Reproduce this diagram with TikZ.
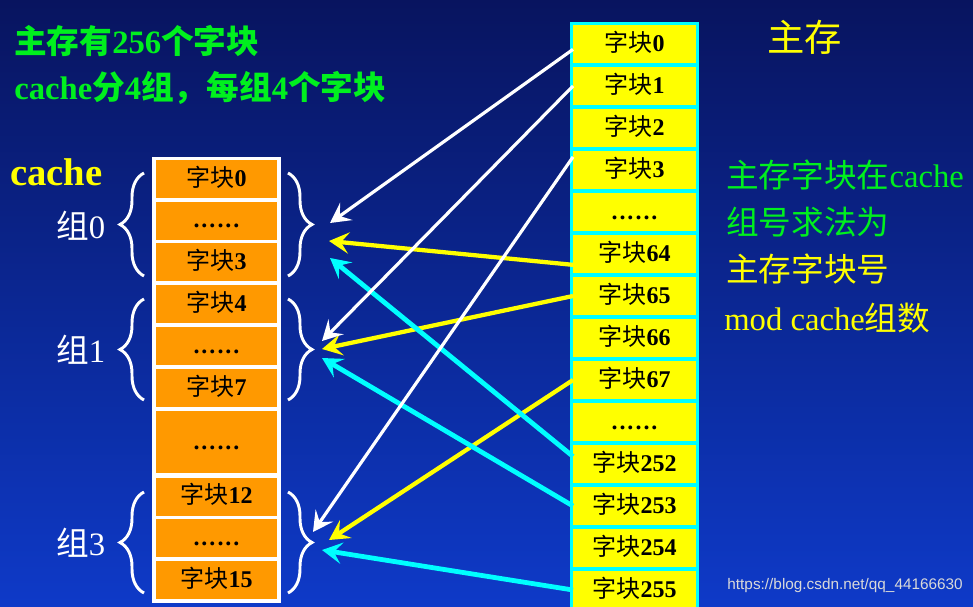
\documentclass[tikz,border=0pt]{standalone}
\usepackage{fontspec}
\setmainfont{Liberation Serif}
\newfontfamily\cjk{Noto Sans CJK SC}
\newfontfamily\wmfont{Liberation Sans}
\usepackage{tikz}
\usetikzlibrary{arrows.meta,decorations.pathreplacing}

\newcommand\zh[1]{{\cjk #1}}
\newcommand\sixdots{\textbf{.\kern1.5pt.\kern1.5pt.\kern1.5pt.\kern1.5pt.\kern1.5pt.}}

\definecolor{bgtop}{RGB}{8,20,95}
\definecolor{bgbot}{RGB}{14,58,200}
\definecolor{cacheorange}{RGB}{255,153,0}
\definecolor{memyellow}{RGB}{255,255,0}
\definecolor{memcyan}{RGB}{0,255,255}
\definecolor{txtgreen}{RGB}{0,240,30}

\tikzset{
  cblock/.style={fill=cacheorange, minimum width=90.75pt, minimum height=28.5pt,
    inner sep=0pt, outer sep=0pt, text height=13pt, text depth=2pt,
    font=\fontsize{18}{20}\selectfont},
  mblock/.style={cblock, fill=memyellow, minimum width=92.25pt},
  grp/.style={draw=white, line width=2.2pt, decorate,
    decoration={brace, amplitude=18pt}},
  txt/.style={inner sep=0pt, anchor=west},
  big/.style={font=\fontsize{24.5}{28}\selectfont},
  bigbf/.style={font=\fontsize{24.5}{28}\selectfont\bfseries},
  wline/.style={draw=white, line width=2.4pt,
    -{Stealth[length=15pt, width=16pt, inset=6pt]}},
  yline/.style={wline, draw=memyellow, line width=3.2pt},
  cline/.style={wline, draw=memcyan, line width=3.6pt}
}

\begin{document}
\begin{tikzpicture}[x=0.75pt,y=-0.75pt]
\clip (0,0) rectangle (973,606);
\fill[top color=bgtop, bottom color=bgbot] (0,0) rectangle (973,606);

% cache
\fill[white] (152,157) rectangle (281,603);
\node[cblock] (c0) at (216.5,179) {\zh{字块}\textbf{0}};
\node[cblock] (c1) at (216.5,220.5) {\sixdots};
\node[cblock] (c3) at (216.5,262) {\zh{字块}\textbf{3}};
\node[cblock] (c4) at (216.5,304) {\zh{字块}\textbf{4}};
\node[cblock] (c5) at (216.5,346) {\sixdots};
\node[cblock] (c7) at (216.5,388) {\zh{字块}\textbf{7}};
\node[cblock, minimum height=46.5pt] (c8) at (216.5,442) {\sixdots};
\node[cblock] (c12) at (216.5,496.5) {\zh{字块}\textbf{12}};
\node[cblock] (c13) at (216.5,538) {\sixdots};
\node[cblock] (c15) at (216.5,580) {\zh{字块}\textbf{15}};

\draw[grp] (144,276) -- (144,173);
\draw[grp] (144,400) -- (144,299);
\draw[grp] (144,593) -- (144,492);
\draw[grp] (288,173) -- (288,276);
\draw[grp] (288,299) -- (288,400);
\draw[grp] (288,492) -- (288,593);

\node[txt, big, white] (l0) at (56,226) {\zh{组}0};
\node[txt, big, white] (l1) at (56,350) {\zh{组}1};
\node[txt, big, white] (l3) at (56,543) {\zh{组}3};

% main memory
\fill[memcyan] (570,22) rectangle (699,612);
\node[mblock] (m0) at (634.5,44) {\zh{字块}\textbf{0}};
\node[mblock] (m1) at (634.5,86) {\zh{字块}\textbf{1}};
\node[mblock] (m2) at (634.5,128) {\zh{字块}\textbf{2}};
\node[mblock] (m3) at (634.5,170) {\zh{字块}\textbf{3}};
\node[mblock] (m4) at (634.5,212) {\sixdots};
\node[mblock] (m5) at (634.5,254) {\zh{字块}\textbf{64}};
\node[mblock] (m6) at (634.5,296) {\zh{字块}\textbf{65}};
\node[mblock] (m7) at (634.5,338) {\zh{字块}\textbf{66}};
\node[mblock] (m8) at (634.5,380) {\zh{字块}\textbf{67}};
\node[mblock] (m9) at (634.5,422) {\sixdots};
\node[mblock] (m10) at (634.5,464) {\zh{字块}\textbf{252}};
\node[mblock] (m11) at (634.5,506) {\zh{字块}\textbf{253}};
\node[mblock] (m12) at (634.5,548) {\zh{字块}\textbf{254}};
\node[mblock] (m13) at (634.5,590) {\zh{字块}\textbf{255}};

\coordinate (g0a) at (330,223);
\coordinate (g0b) at (329,241);
\coordinate (g0c) at (330,258);
\coordinate (g1a) at (322,341);
\coordinate (g1b) at (322,349);
\coordinate (g1c) at (322,358);
\coordinate (g3a) at (313,532);
\coordinate (g3b) at (329,540);
\coordinate (g3c) at (322,550);

\draw[yline] (m5.190) -- (g0b);
\draw[yline] (m6.west) -- (g1b);
\draw[yline] (m8.west) -- (g3b);
\draw[cline] (m10.173) -- (g0c);
\draw[cline] (m11.west) -- (g1c);
\draw[cline] (m13.west) -- (g3c);
\draw[wline] (m0.185) -- (g0a);
\draw[wline] (m1.west) -- (g1a);
\draw[wline] (m3.168) -- (g3a);

% texts
\node[txt, bigbf, txtgreen] (t1) at (14,41) {\zh{主存有}256\zh{个字块}};
\node[txt, bigbf, txtgreen] (t2) at (14,88) {cache\zh{分}4\zh{组，每组}4\zh{个字块}};
\node[txt, memyellow, font=\fontsize{29}{32}\selectfont\bfseries] (cachelbl) at (10,172) {cache};
\node[txt, memyellow, font=\fontsize{28}{32}\selectfont] (mainlbl) at (767,37) {\zh{主存}};
\node[txt, big, txtgreen] (r1) at (726,175) {\zh{主存字块在}cache};
\node[txt, big, txtgreen] (r2) at (726,222) {\zh{组号求法为}};
\node[txt, big, memyellow] (r3) at (726,269) {\zh{主存字块号}};
\node[txt, big, memyellow] (r4) at (724,318) {mod cache\zh{组数}};
\node[inner sep=0pt, anchor=east, text=gray!30, font=\wmfont\fontsize{11.5}{13}\selectfont] (wm) at (963,586) {https://blog.csdn.net/qq\_44166630};
\end{tikzpicture}
\end{document}
